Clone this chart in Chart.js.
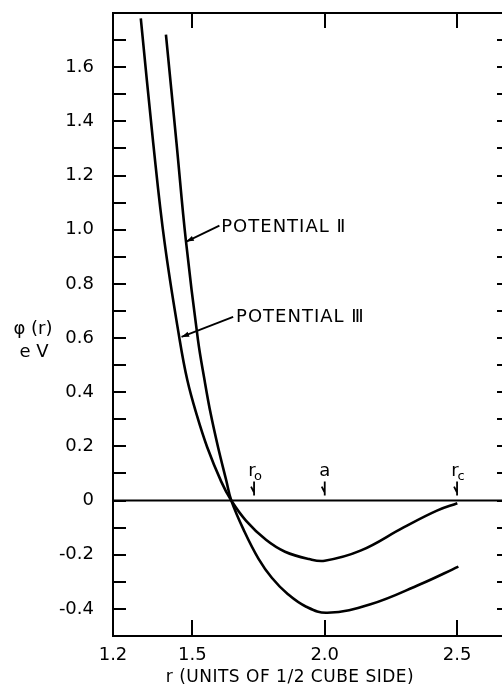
<!DOCTYPE html>
<html>
<head>
<script src="https://cdn.jsdelivr.net/npm/chart.js@4.4.0/dist/chart.umd.min.js"></script>
<style>
  html, body { margin: 0; padding: 0; background: #fff; overflow: hidden; }
  #wrap { width: 502px; height: 688px; overflow: hidden; }
  canvas { display: block; }
</style>
</head>
<body>
<div id="wrap"><canvas id="chart" width="520" height="688"></canvas></div>
<script>
// r (units of 1/2 cube side) and phi(r) in eV
const rPot2   = [1.400, 1.440, 1.475, 1.521, 1.546, 1.569, 1.597, 1.628, 1.647, 1.697, 1.750, 1.800, 1.860, 1.930, 2.010, 2.173, 2.361, 2.505];
const phiPot2 = [1.72, 1.32, 0.963, 0.593, 0.444, 0.321, 0.197, 0.074, 0, -0.115, -0.215, -0.285, -0.345, -0.392, -0.414, -0.383, -0.309, -0.244];
const rPot3   = [1.305, 1.352, 1.395, 1.452, 1.481, 1.515, 1.556, 1.609, 1.647, 1.703, 1.778, 1.850, 1.941, 2.000, 2.135, 2.298, 2.424, 2.501];
const phiPot3 = [1.78, 1.32, 0.952, 0.593, 0.444, 0.321, 0.197, 0.070, 0, -0.075, -0.145, -0.189, -0.216, -0.222, -0.185, -0.099, -0.037, -0.01];

const xLabelValues = [1.2, 1.5, 2.0, 2.5];
const xFrameTicks = [1.5, 2.0, 2.5];

// marked distances on the zero line
const markerNames = ['r', 'a', 'r'];
const markerSubs  = ['o', '', 'c'];
const markerR     = [1.733, 2.0, 2.5];

// curve labels: text anchor and arrow tail/tip in data units
const curveLabels = [
  { text: 'POTENTIAL \u2161', at: [1.609, 1.009], tail: [1.602, 1.015], tip: [1.477, 0.956] },
  { text: 'POTENTIAL \u2162', at: [1.665, 0.678], tail: [1.654, 0.678], tip: [1.459, 0.604] }
];

const FONT = '"DejaVu Sans", Arial, sans-serif';

function toPoints(xs, ys) {
  return xs.map((x, i) => ({ x: x, y: ys[i] }));
}

function arrow(ctx, x1, y1, x2, y2) {
  ctx.beginPath();
  ctx.moveTo(x1, y1);
  ctx.lineTo(x2, y2);
  ctx.stroke();
  const a = Math.atan2(y2 - y1, x2 - x1);
  const len = 8, w = 0.35;
  ctx.beginPath();
  ctx.moveTo(x2, y2);
  ctx.lineTo(x2 - len * Math.cos(a - w), y2 - len * Math.sin(a - w));
  ctx.lineTo(x2 - len * Math.cos(a + w), y2 - len * Math.sin(a + w));
  ctx.closePath();
  ctx.fill();
}

const framePlugin = {
  id: 'frame',
  beforeDatasetsDraw(chart) {
    const { ctx, chartArea: ca, scales: { x, y } } = chart;
    ctx.save();
    ctx.strokeStyle = '#000';
    ctx.lineCap = 'butt';

    // box
    ctx.lineWidth = 2;
    ctx.strokeRect(ca.left, ca.top, ca.right - ca.left, ca.bottom - ca.top);

    // zero line
    const y0 = y.getPixelForValue(0);
    ctx.beginPath();
    ctx.moveTo(ca.left, y0);
    ctx.lineTo(ca.right, y0);
    ctx.stroke();

    // inward y ticks, left and right
    y.ticks.forEach(t => {
      if (t.value <= y.min || t.value >= y.max) return;
      const py = Math.round(y.getPixelForValue(t.value));
      ctx.beginPath();
      ctx.moveTo(ca.left, py);
      ctx.lineTo(ca.left + 13, py);
      ctx.moveTo(ca.right, py);
      ctx.lineTo(ca.right - 13, py);
      ctx.stroke();
    });

    // inward x ticks, top and bottom
    xFrameTicks.forEach(v => {
      const px = Math.round(x.getPixelForValue(v));
      ctx.beginPath();
      ctx.moveTo(px, ca.bottom);
      ctx.lineTo(px, ca.bottom - 16);
      ctx.moveTo(px, ca.top);
      ctx.lineTo(px, ca.top + 15);
      ctx.stroke();
    });
    ctx.restore();
  },
  afterDatasetsDraw(chart) {
    const { ctx, scales: { x, y } } = chart;
    ctx.save();
    ctx.fillStyle = '#000';
    ctx.strokeStyle = '#000';

    // curve labels with arrows
    ctx.font = '18px ' + FONT;
    ctx.letterSpacing = '1px';
    ctx.textBaseline = 'middle';
    ctx.textAlign = 'left';
    ctx.lineWidth = 1.8;
    curveLabels.forEach(l => {
      ctx.fillText(l.text, x.getPixelForValue(l.at[0]), y.getPixelForValue(l.at[1]));
      arrow(ctx, x.getPixelForValue(l.tail[0]), y.getPixelForValue(l.tail[1]),
                 x.getPixelForValue(l.tip[0]), y.getPixelForValue(l.tip[1]));
    });
    ctx.letterSpacing = '0px';

    // r0, a, rc markers
    const y0 = y.getPixelForValue(0);
    markerR.forEach((r, i) => {
      const px = x.getPixelForValue(r);
      ctx.textAlign = 'center';
      ctx.textBaseline = 'alphabetic';
      ctx.font = '18px ' + FONT;
      const hasSub = markerSubs[i] !== '';
      ctx.fillText(markerNames[i], hasSub ? px - 2 : px, y0 - 25);
      if (hasSub) {
        ctx.font = '13px ' + FONT;
        ctx.fillText(markerSubs[i], px + 4, y0 - 21);
      }
      ctx.lineWidth = 1.8;
      ctx.beginPath();
      ctx.moveTo(px, y0 - 19);
      ctx.lineTo(px, y0 - 5);
      ctx.moveTo(px, y0 - 8);
      ctx.lineTo(px - 3, y0 - 14);
      ctx.stroke();
    });

    // axis titles
    ctx.textAlign = 'center';
    ctx.textBaseline = 'middle';
    ctx.font = '18px ' + FONT;
    ctx.fillText('\u03C6 (r)', 33, 329);
    ctx.fillText('e V', 34, 352);
    ctx.font = '17px ' + FONT;
    ctx.letterSpacing = '0.5px';
    ctx.fillText('r (UNITS OF 1/2 CUBE SIDE)', 290, 678);
    ctx.restore();
  }
};

const curveStyle = {
  borderColor: '#000',
  borderWidth: 2.6,
  pointRadius: 0,
  tension: 0.4,
  fill: false
};

new Chart(document.getElementById('chart'), {
  type: 'line',
  data: {
    datasets: [
      Object.assign({ label: 'Potential II', data: toPoints(rPot2, phiPot2) }, curveStyle),
      Object.assign({ label: 'Potential III', data: toPoints(rPot3, phiPot3) }, curveStyle)
    ]
  },
  options: {
    responsive: false,
    animation: false,
    layout: { padding: { top: 13, right: 10, left: 0, bottom: 0 } },
    plugins: {
      legend: { display: false },
      tooltip: { enabled: false },
      title: { display: false }
    },
    scales: {
      x: {
        type: 'linear',
        min: 1.2,
        max: 2.7,
        grid: { display: false, drawTicks: false },
        border: { display: false },
        afterBuildTicks: scale => { scale.ticks = xLabelValues.map(v => ({ value: v })); },
        afterFit: scale => { scale.height = 52; scale.paddingLeft = 0; scale.paddingRight = 0; },
        ticks: {
          padding: 9,
          color: '#000',
          font: { family: FONT, size: 18 },
          maxRotation: 0,
          autoSkip: false,
          callback: v => v.toFixed(1)
        }
      },
      y: {
        min: -0.5,
        max: 1.8,
        grid: { display: false, drawTicks: false },
        border: { display: false },
        afterFit: scale => { scale.width = 113; scale.paddingTop = 0; scale.paddingBottom = 0; },
        ticks: {
          stepSize: 0.1,
          autoSkip: false,
          padding: 19,
          color: '#000',
          font: { family: FONT, size: 18 },
          callback: v => {
            const k = Math.round(v * 10);
            if (k % 2 !== 0 || k < -4 || k > 16) return '';
            return k === 0 ? '0' : (k / 10).toFixed(1);
          }
        }
      }
    }
  },
  plugins: [framePlugin]
});
</script>
</body>
</html>
